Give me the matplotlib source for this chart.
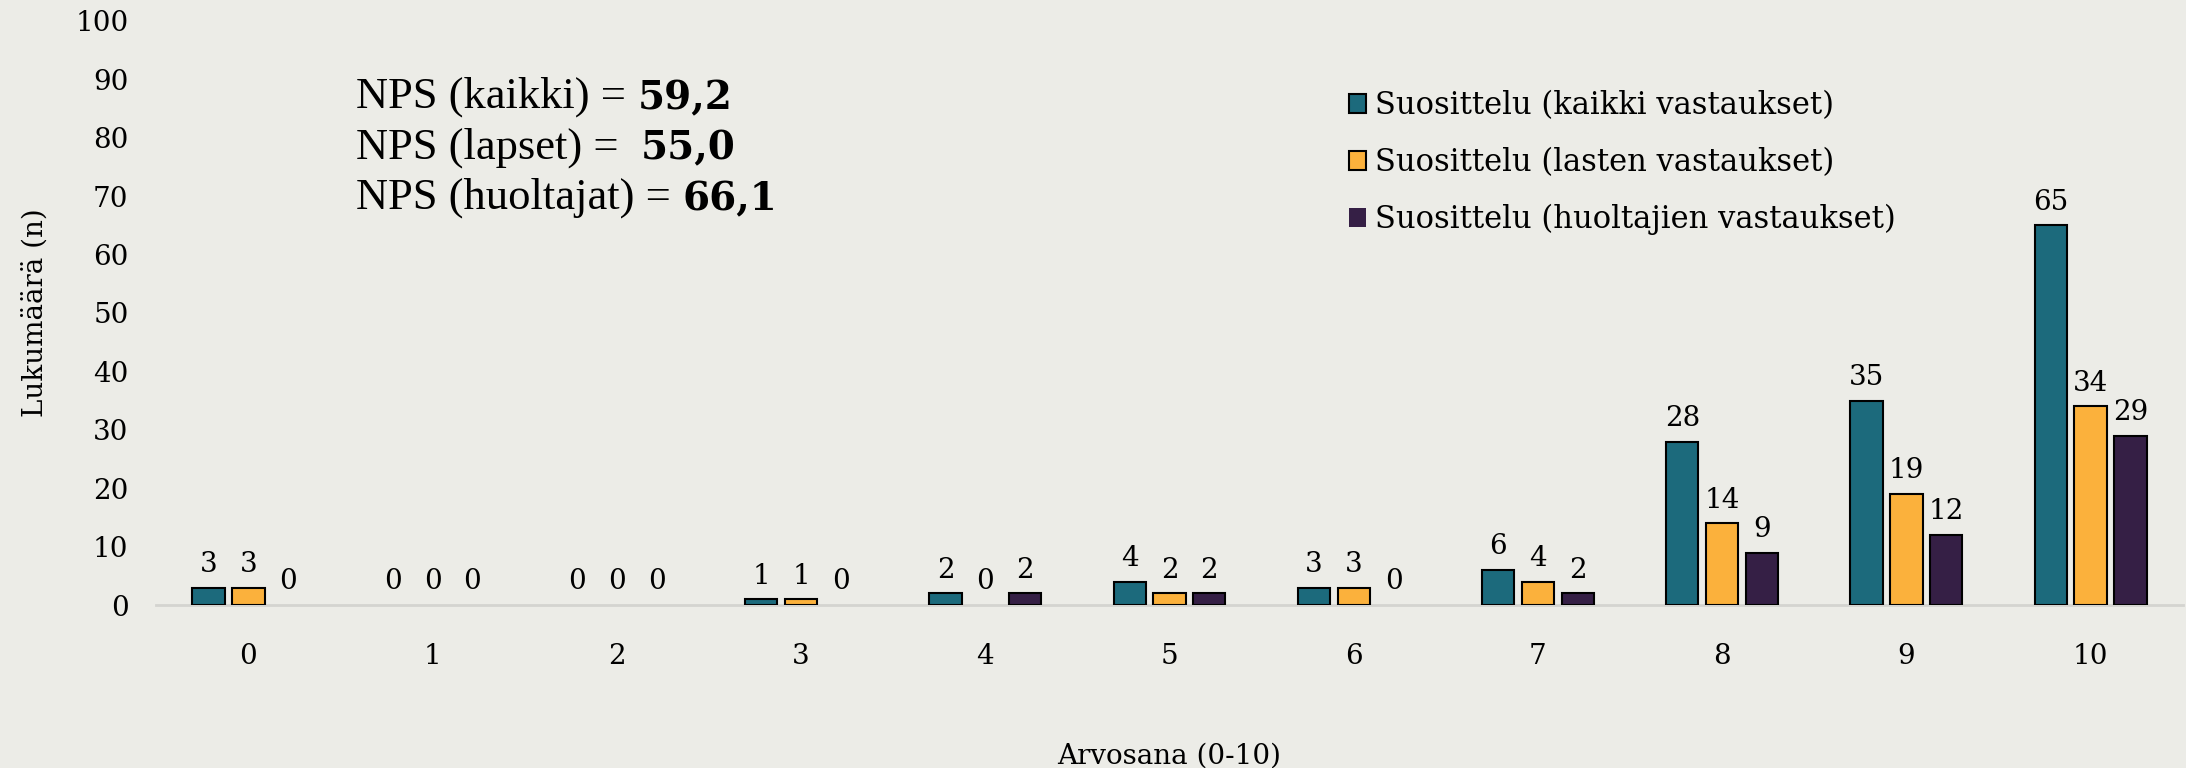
import matplotlib
matplotlib.use("Agg")
import matplotlib.pyplot as plt
import numpy as np

arvosanat = ['0', '1', '2', '3', '4', '5', '6', '7', '8', '9', '10']
kaikki = [3, 0, 0, 1, 2, 4, 3, 6, 28, 35, 65]
lapset = [3, 0, 0, 1, 0, 2, 3, 4, 14, 19, 34]
huoltajat = [0, 0, 0, 0, 2, 2, 0, 2, 9, 12, 29]
sarjat = ['Suosittelu (kaikki vastaukset)', 'Suosittelu (lasten vastaukset)',
          'Suosittelu (huoltajien vastaukset)']
nps_tekstit = ['NPS (kaikki) = ', 'NPS (lapset) =  ', 'NPS (huoltajat) = ']
nps_arvot = ['59,2', '55,0', '66,1']

varit = ['#1c6a7c', '#fbb13c', '#351f45']
tausta = '#ecece7'
plt.rcParams['font.family'] = 'DejaVu Serif'

fig = plt.figure(figsize=(21.86, 7.68), dpi=100, facecolor=tausta)
ax = fig.add_axes([0.0715, 0.212, 0.927, 0.761], facecolor=tausta)

x = np.arange(len(arvosanat))
w = 0.175
step = 0.216
for i, (vals, c, lab) in enumerate(zip([kaikki, lapset, huoltajat], varit, sarjat)):
    lw = [1.5 if v else 0 for v in vals]
    bars = ax.bar(x + (i - 1) * step, vals, w, color=c, edgecolor='black',
                  linewidth=lw, label=lab, zorder=3)
    for b, v in zip(bars, vals):
        ax.annotate(str(v), (b.get_x() + b.get_width() / 2, v),
                    xytext=(0, 7), textcoords='offset points',
                    ha='center', va='bottom', fontsize=20)

ax.set_xlim(-0.5, len(arvosanat) - 0.5)
ax.set_ylim(0, 100)
ax.set_yticks(range(0, 101, 10))
ax.set_xticks(x)
ax.set_xticklabels(arvosanat)
ax.tick_params(axis='both', length=0, labelsize=20)
ax.tick_params(axis='x', pad=27)
ax.tick_params(axis='y', pad=20)
for s in ['top', 'right', 'left']:
    ax.spines[s].set_visible(False)
ax.spines['bottom'].set_color('#d4d4d0')
ax.spines['bottom'].set_linewidth(2)

ax.set_ylabel('Lukumäärä (n)', fontsize=20)
ax.yaxis.set_label_coords(-0.053, 0.5)
ax.set_xlabel('Arvosana (0-10)', fontsize=20)
ax.xaxis.set_label_coords(0.5, -0.235)

leg = ax.legend(loc='upper left', bbox_to_anchor=(0.575, 0.928), frameon=False,
                fontsize=22, handlelength=0.55, handleheight=0.55,
                handletextpad=0.3, labelspacing=0.85)

for i, (t, v) in enumerate(zip(nps_tekstit, nps_arvot)):
    t1 = fig.text(0.163, 0.86 - i * 0.066, t, fontsize=32,
                  family='Liberation Serif', va='baseline')
    ax.annotate(v, xy=(1, 0), xycoords=t1, fontsize=28,
                family='DejaVu Serif', fontweight='bold', va='bottom')

fig.savefig('out.png', dpi=100, facecolor=tausta)
